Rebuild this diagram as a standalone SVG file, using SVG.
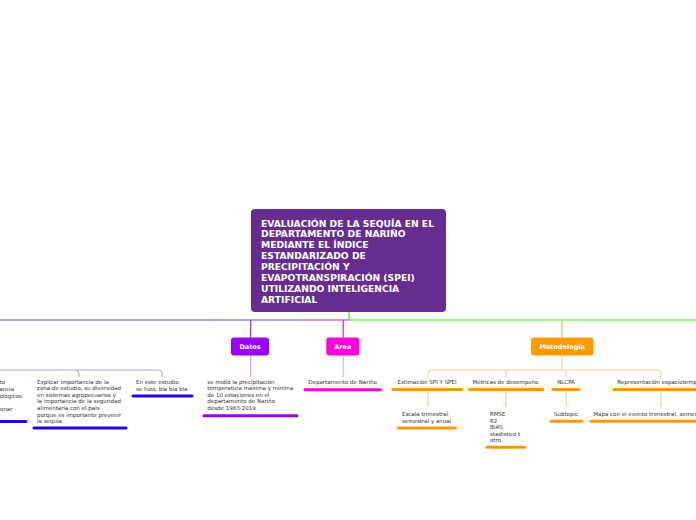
<svg xmlns="http://www.w3.org/2000/svg" width="696" height="520" viewBox="0 0 696 520">
<defs>
<linearGradient id="gl" gradientUnits="userSpaceOnUse" x1="0" y1="0" x2="349" y2="0">
<stop offset="0" stop-color="#3e46f0"/>
<stop offset="0.75" stop-color="#4f50f0"/>
<stop offset="1" stop-color="#a82cf0"/>
</linearGradient>
<style>
.small{font-family:"DejaVu Sans",Verdana,sans-serif;font-size:5.5px;fill:#333}
.lbl{font-family:"DejaVu Sans",Verdana,sans-serif;font-weight:bold;font-size:6.5px;fill:#fff;text-anchor:middle}
.title{font-family:"DejaVu Sans",Verdana,sans-serif;font-weight:bold;font-size:9.2px;fill:#fff}
.ul{stroke-width:3;stroke-linecap:round;fill:none}
.c{fill:none;stroke-width:1.2}
.mid{text-anchor:middle}
.end{text-anchor:end}
</style>
</defs>
<rect width="696" height="520" fill="#fff"/>
<g id="connectors">
<path class="c" d="M0,320 H349" stroke="url(#gl)" stroke-width="2"/>
<path class="c" d="M349,312 V320 H696" stroke="#44e61a" stroke-width="2"/>
<path class="c" d="M250.7,320 V337.5" stroke="#9a22f0"/>
<path class="c" d="M343.3,320 V337.5" stroke="#ee22ee"/>
<path class="c" d="M562,320 V337.5" stroke="#ffb050"/>
<path class="c" d="M250.7,355.5 V377" stroke="#d49cf8"/>
<path class="c" d="M343.3,355.5 V377" stroke="#ff9cf0"/>
<path class="c" d="M0,370 H158 Q162,370 162,374 V377 M75,370 Q79,370 79,374 V377" stroke="#b0a8f8"/>
<path class="c" d="M428,377 V374 Q428,370 432,370 H657 Q661,370 661,374 V377 M506,370 V377 M562,355.5 V370 M566,370 V377" stroke="#ffd090"/>
<path class="c" d="M428,392 V407 M506,392 V407 M566,392 V407 M661,392 V407" stroke="#ffd090"/>
</g>
<g id="root">
<rect x="251" y="209" width="195" height="103" rx="4" fill="#662d91"/>
<text class="title" x="261" y="226.5">EVALUACIÓN DE LA SEQUÍA EN EL</text>
<text class="title" x="261" y="237.4">DEPARTAMENTO DE NARIÑO</text>
<text class="title" x="261" y="248.3">MEDIANTE EL ÍNDICE</text>
<text class="title" x="261" y="259.2">ESTANDARIZADO DE</text>
<text class="title" x="261" y="270.1">PRECIPITACIÓN Y</text>
<text class="title" x="261" y="281">EVAPOTRANSPIRACIÓN (SPEI)</text>
<text class="title" x="261" y="291.9">UTILIZANDO INTELIGENCIA</text>
<text class="title" x="261" y="302.8">ARTIFICIAL</text>
</g>
<g id="left-fragment">
<text class="small end" x="5" y="384">to</text>
<text class="small end" x="14" y="391">ancia</text>
<text class="small end" x="22" y="397.5">ológicos</text>
<text class="small end" x="12.5" y="410.5">onar</text>
<path class="ul" d="M0,421.5 H26" stroke="#2200ee"/>
</g>
<g id="explicar">
<text class="small" x="37" y="383.5">Explicar importancia de la</text>
<text class="small" x="37" y="390.2">zona de estudio, su diversidad</text>
<text class="small" x="37" y="396.8">en sistemas agropecuarios y</text>
<text class="small" x="37" y="403.3">la importancia de la seguridad</text>
<text class="small" x="37" y="409.9">alimentaria con el pais</text>
<text class="small" x="37" y="416.6">porque es importante prevenir</text>
<text class="small" x="37" y="423.1">la sequía</text>
<path class="ul" d="M34,428 H126" stroke="#2200ee"/>
</g>
<g id="estudio">
<text class="small" x="136" y="384">En este estudio</text>
<text class="small" x="136" y="391.2">se hizó, bla bla bla</text>
<path class="ul" d="M133,396 H192" stroke="#2200ee"/>
</g>
<g id="datos">
<rect x="231" y="337.5" width="38" height="18" rx="3" fill="#9900ff"/>
<text class="lbl" x="250" y="349">Datos</text>
</g>
<g id="datos-child">
<text class="small" x="207.3" y="383.5">se midió la precipitación</text>
<text class="small" x="207.3" y="390.2">temperatura máxima y mínima</text>
<text class="small" x="207.3" y="396.8">de 10 estaciones en el</text>
<text class="small" x="207.3" y="403.4">departamento de Nariño</text>
<text class="small" x="207.3" y="409.9">desde 1983-2019</text>
<path class="ul" d="M204,415.7 H297" stroke="#9900ff"/>
</g>
<g id="area">
<rect x="326.3" y="337.5" width="33" height="18" rx="3" fill="#ff00dd"/>
<text class="lbl" x="342.8" y="349">Area</text>
</g>
<g id="area-child">
<text class="small" x="308.3" y="383.7">Departamento de Nariño</text>
<path class="ul" d="M305,389.7 H380.5" stroke="#ff00dd"/>
</g>
<g id="metodologia">
<rect x="531" y="337.5" width="62.5" height="18" rx="3" fill="#ff9900"/>
<text class="lbl" x="562.2" y="349">Metodología</text>
</g>
<g id="estimacion">
<text class="small mid" x="427" y="383.7">Estimación SPI Y SPEI</text>
<path class="ul" d="M393,389.5 H461.5" stroke="#ff9900"/>
</g>
<g id="escala">
<text class="small" x="402" y="416">Escala trimestral</text>
<text class="small" x="402" y="422.7">semestral y anual</text>
<path class="ul" d="M398.5,428 H455.5" stroke="#ff9900"/>
</g>
<g id="metricas">
<text class="small mid" x="505.5" y="383.7">Métricas de desempeño</text>
<path class="ul" d="M469.5,389.5 H542.5" stroke="#ff9900"/>
</g>
<g id="rmse">
<text class="small" x="490" y="416">RMSE</text>
<text class="small" x="490" y="422.5">R2</text>
<text class="small" x="490" y="428.8">BIAS</text>
<text class="small" x="490" y="435.5">stadistico t</text>
<text class="small" x="490" y="441.8">otro</text>
<path class="ul" d="M487,447.3 H524.5" stroke="#ff9900"/>
</g>
<g id="nlcpa">
<text class="small mid" x="566" y="383.7">NLCPA</text>
<path class="ul" d="M553,389.5 H579" stroke="#ff9900"/>
</g>
<g id="subtopic">
<text class="small mid" x="566" y="416">Subtopic</text>
<path class="ul" d="M551,421.3 H582" stroke="#ff9900"/>
</g>
<g id="representacion">
<text class="small" x="617.3" y="383.7">Representación espaciotemporal</text>
<path class="ul" d="M614,389.5 H697" stroke="#ff9900"/>
</g>
<g id="mapa">
<text class="small" x="593.3" y="416">Mapa con el evento trimestral, semestral</text>
<path class="ul" d="M591,421.3 H697" stroke="#ff9900"/>
</g>
</svg>
